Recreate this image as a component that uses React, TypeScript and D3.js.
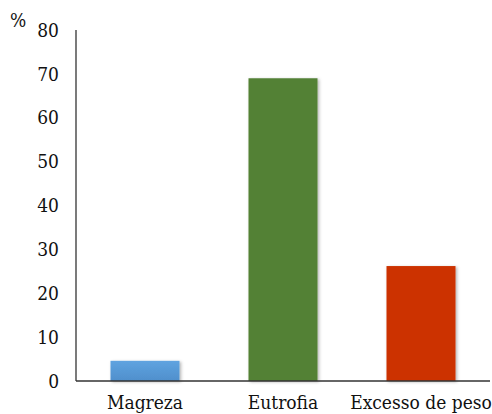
import React, { useEffect, useRef } from 'react';
import * as d3 from 'd3';

const categories = ['Magreza', 'Eutrofia', 'Excesso de peso'];
const values = [4.6, 69, 26.2];
const colors = ['#5b9bd5', '#538135', '#cc3300'];
const yTicks = [0, 10, 20, 30, 40, 50, 60, 70, 80];

const width = 492;
const height = 414;
const serif = "'DejaVu Serif Condensed', 'Liberation Serif', serif";

const App: React.FC = () => {
    const svgRef = useRef<SVGSVGElement>(null);

    useEffect(() => {
        if (!svgRef.current) return;
        const svg = d3.select(svgRef.current);
        svg.selectAll('*').remove();

        const margin = { top: 30, right: 2, bottom: 33, left: 76 };
        const chartWidth = width - margin.left - margin.right;
        const chartHeight = height - margin.top - margin.bottom;

        const defs = svg.append('defs');
        defs.append('filter')
            .attr('id', 'shadow')
            .attr('x', '-10%').attr('y', '-10%')
            .attr('width', '130%').attr('height', '130%')
            .append('feDropShadow')
            .attr('dx', 1.5).attr('dy', 1)
            .attr('stdDeviation', 1.5)
            .attr('flood-color', '#000')
            .attr('flood-opacity', 0.3);

        const blueGrad = defs.append('linearGradient')
            .attr('id', 'blueGrad')
            .attr('x1', 0).attr('y1', 0).attr('x2', 0).attr('y2', 1);
        blueGrad.append('stop').attr('offset', '0%').attr('stop-color', '#5fa3e0');
        blueGrad.append('stop').attr('offset', '100%').attr('stop-color', '#4f8fcc');

        const x = d3.scaleBand()
            .domain(categories)
            .range([0, chartWidth])
            .paddingInner(0.5)
            .paddingOuter(0.25);

        const y = d3.scaleLinear()
            .domain([0, 80])
            .range([chartHeight, 0]);

        const g = svg.append('g')
            .attr('transform', `translate(${margin.left},${margin.top})`);

        g.selectAll('rect.bar')
            .data(values)
            .enter()
            .append('rect')
            .attr('class', 'bar')
            .attr('x', (_, i) => x(categories[i]) as number)
            .attr('y', d => y(d))
            .attr('width', x.bandwidth())
            .attr('height', d => chartHeight - y(d))
            .attr('fill', (_, i) => (i === 0 ? 'url(#blueGrad)' : colors[i]))
            .attr('filter', 'url(#shadow)');

        // axes
        g.append('line')
            .attr('x1', 0).attr('x2', 0)
            .attr('y1', 0).attr('y2', chartHeight)
            .attr('stroke', '#222')
            .attr('stroke-width', 1.2);

        g.append('line')
            .attr('x1', 0).attr('x2', chartWidth)
            .attr('y1', chartHeight).attr('y2', chartHeight)
            .attr('stroke', '#333')
            .attr('stroke-width', 1.5);

        g.selectAll('text.ytick')
            .data(yTicks)
            .enter()
            .append('text')
            .attr('class', 'ytick')
            .attr('x', -17)
            .attr('y', d => y(d))
            .attr('dy', '0.35em')
            .attr('text-anchor', 'end')
            .style('font-family', serif)
            .style('font-size', '19px')
            .attr('fill', '#111')
            .text(d => d);

        g.selectAll('text.xlabel')
            .data(categories)
            .enter()
            .append('text')
            .attr('class', 'xlabel')
            .attr('x', d => (x(d) as number) + x.bandwidth() / 2)
            .attr('y', chartHeight + 28)
            .attr('text-anchor', 'middle')
            .style('font-family', serif)
            .style('font-size', '19px')
            .attr('fill', '#111')
            .text(d => d);

        svg.append('text')
            .attr('x', 10)
            .attr('y', 27)
            .style('font-family', serif)
            .style('font-size', '19px')
            .attr('fill', '#111')
            .text('%');
    }, []);

    return (
        <svg ref={svgRef} width={width} height={height}
             style={{ position: 'absolute', left: 0, top: 0, background: '#fff' }}></svg>
    );
};

export default App;
